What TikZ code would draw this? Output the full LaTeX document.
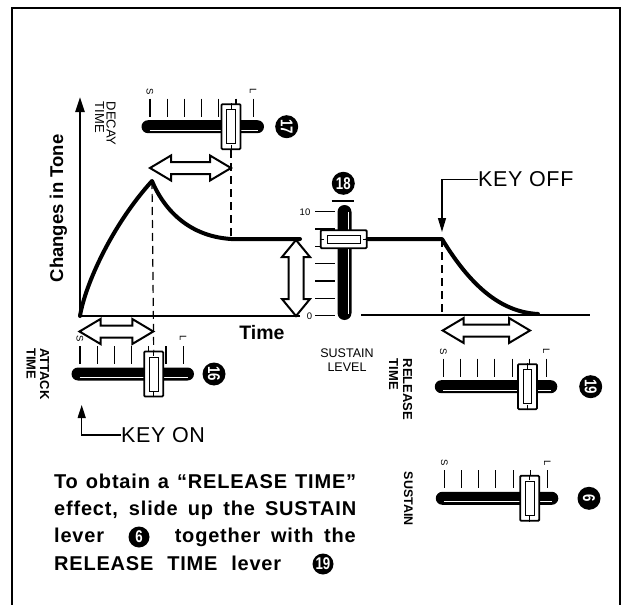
\documentclass[tikz,border=0pt]{standalone}
\usepackage{graphicx}
\usepackage{fontspec}
\setmainfont{Liberation Sans}
\newfontfamily\bodyfont{Liberation Sans}[LetterSpace=4]
\newfontfamily\keyfamily{Liberation Sans}[LetterSpace=3]
\usetikzlibrary{arrows.meta,calc}

\tikzset{
  curve/.style={line width=4pt,line cap=round,line join=round},
  axisline/.style={line width=2.4pt},
  dashline/.style={line width=1.2pt,dash pattern=on 8pt off 5pt},
  tickline/.style={line width=1.1pt},
  leadline/.style={line width=1.3pt},
  knob/.style={draw,fill=white,line width=1.8pt,inner sep=0pt,rounded corners=1pt},
  numcirc/.style={circle,fill=black,text=white,inner sep=0pt,minimum size=23pt,
    font=\fontsize{17}{17}\selectfont\bfseries},
  hollow/.style={draw,fill=white,line width=2pt,line join=miter},
  smalllab/.style={inner sep=0pt,font=\fontsize{9.5}{9.5}\selectfont},
  sidelab/.style={inner sep=0pt,rotate=-90,anchor=north west,align=left},
  keyfont/.style={inner sep=0pt,font=\keyfamily\fontsize{21.5}{21.5}\selectfont},
  bodytext/.style={inner sep=0pt,font=\bodyfont\fontsize{20}{20}\selectfont\bfseries},
}
\newcommand{\cnum}[1]{\scalebox{0.78}[1]{#1}}

% horizontal slider: #1 name, #2 first tick x, #3 track centre y, #4 knob x, #5 circle x, #6 number
\newcommand{\HSlider}[6]{%
  \pgfmathsetmacro{\slXl}{#2-8.5}%
  \pgfmathsetmacro{\slXr}{#2+114}%
  \fill[rounded corners=6.5pt] (\slXl,#3-6.5) rectangle (\slXr,#3+6.5);
  \draw[white,line width=0.9pt] (\slXl+8,#3+3.6) -- (\slXr-6,#3+3.6);
  \foreach \i in {0,...,6}{%
    \pgfmathsetmacro{\slTx}{#2+17.2*\i}%
    \draw[tickline] (\slTx,#3-28) -- (\slTx,#3-10);
  }
  \node[smalllab,rotate=-90] (#1S) at (#2,#3-35.5) {S};
  \node[smalllab,rotate=-90] (#1L) at (#2+103.2,#3-35.5) {L};
  \node[knob,minimum width=19pt,minimum height=45pt] (#1k) at (#4,#3) {};
  \draw[line width=1pt] ($(#1k.center)+(-4.3,-17)$) rectangle ($(#1k.center)+(4.3,17)$);
  \draw[line width=1pt] (#1k.north) -- ++(0,5.5) (#1k.south) -- ++(0,-5.5);
  \node[numcirc,rotate=-90] (#1n) at (#5,#3) {\cnum{#6}};
}

% hollow double arrows
\newcommand{\HArrow}[3]{%
  \draw[hollow] (#1,#3) -- (#1+21,#3-12.5) -- (#1+21,#3-6) -- (#2-21,#3-6) -- (#2-21,#3-12.5)
    -- (#2,#3) -- (#2-21,#3+12.5) -- (#2-21,#3+6) -- (#1+21,#3+6) -- (#1+21,#3+12.5) -- cycle;}
\newcommand{\VArrow}[3]{%
  \draw[hollow] (#3,#1) -- (#3-14,#1+17) -- (#3-7.5,#1+17) -- (#3-7.5,#2-17) -- (#3-14,#2-17)
    -- (#3,#2) -- (#3+14,#2-17) -- (#3+7.5,#2-17) -- (#3+7.5,#1+17) -- (#3+14,#1+17) -- cycle;}

\begin{document}
\begin{tikzpicture}[x=1pt,y=-1pt]
\useasboundingbox (0,0) rectangle (625,605);
\fill[white] (0,0) rectangle (625,605);

% frame (open at the bottom)
\coordinate (fbl) at (12,607);
\coordinate (ftl) at (12,8);
\coordinate (ftr) at (620,8);
\coordinate (fbr) at (620,607);
\draw[line width=2.5pt] (fbl) -- (ftl) -- (ftr) -- (fbr);

% key points
\coordinate (O) at (80,316);
\coordinate (ytop) at (80,97);
\coordinate (xend) at (300,316);
\coordinate (peak) at (152,181);
\coordinate (dend) at (231,239);
\coordinate (s1) at (300,239);
\coordinate (koff) at (442,239);
\coordinate (koffb) at (442,315);
\coordinate (rend) at (538,314);
\coordinate (b1) at (361,315);
\coordinate (b2) at (590,315);

% sliders
\HSlider{a}{80}{374}{153.7}{214}{16}
\HSlider{d}{150}{126.7}{231}{286.7}{17}
\HSlider{r}{443.3}{386.7}{527.5}{590.7}{19}
\HSlider{s}{444.3}{498.3}{529.7}{589}{6}

% vertical sustain level slider
\fill[rounded corners=7pt] (337.5,205) rectangle (351.5,320);
\draw[white,line width=0.9pt] (348,212) -- (348,314);
\foreach \i in {0,...,6}{\draw[tickline] (315,211.7+17.33*\i) -- (335,211.7+17.33*\i);}
\node[smalllab] (t10) at (305,212) {10};
\node[smalllab] (t0) at (309.5,316) {0};
\node[knob,minimum width=46pt,minimum height=18pt] (k18) at (343.7,239.2) {};
\draw[line width=1pt] ($(k18.center)+(-16.5,-3.8)$) rectangle ($(k18.center)+(16.5,3.8)$);
\draw[line width=1pt] (k18.west) -- ++(4.5,0) (k18.east) -- ++(-4.5,0);
\node[numcirc] (n18) at (343.3,183.3) {\cnum{18}};
\coordinate (cap1) at (331.7,201);
\coordinate (cap2) at (354,201);
\draw[line width=1.5pt] (cap1) -- (cap2);

% dashed guides
\draw[dashline] (peak) -- (ak.north);
\draw[dashline] (dk.south) -- (dend);
\draw[dashline] (koff) -- (koffb);

% envelope
\draw[axisline] (xend) -- (O);
\draw[axisline,-{Triangle[length=15pt,width=9pt]}] (O) -- (ytop);
\draw[curve] (O) .. controls (85,285) and (112,225) .. (peak)
  .. controls (162,205) and (185,236) .. (dend) -- (s1);
\draw[curve] (k18.east |- koff) -- (koff) .. controls (470,285) and (500,312) .. (rend);
\draw[line width=2.2pt] (b1) -- (b2);

% hollow arrows
\HArrow{150}{231}{168}
\HArrow{79.5}{153.3}{331.5}
\HArrow{442.7}{530}{330.5}
\VArrow{240}{316}{296}

% labels
\node[inner sep=0pt,rotate=90,font=\fontsize{18.5}{18.5}\selectfont\bfseries] (ylab) at (58.5,208.5) {Changes in Tone};
\node[inner sep=0pt,font=\fontsize{19.5}{19.5}\selectfont\bfseries] (xlab) at (262,333) {Time};
\node[sidelab,font=\fontsize{13}{11.5}\selectfont] (decay) at (116,101.5) {DECAY\\TIME};
\node[sidelab,font=\fontsize{13}{13.5}\selectfont\bfseries] (attack) at (49.5,348) {ATTACK\\TIME};
\node[sidelab,font=\fontsize{13}{14}\selectfont\bfseries] (release) at (412.5,358.5) {RELEASE\\TIME};
\node[sidelab,font=\fontsize{12.5}{12.5}\selectfont\bfseries] (sustain) at (413,471.7) {SUSTAIN};
\node[inner sep=0pt,align=center,font=\fontsize{12.5}{14.6}\selectfont] (slevel) at (347,360.3) {SUSTAIN\\LEVEL};

% key off / key on
\node[keyfont,anchor=west] (kofft) at (478,179.5) {KEY OFF};
\coordinate (koffc) at (442,179.5);
\draw[leadline,-{Triangle[length=14pt,width=8pt]},shorten >=7pt] (kofft.west) -- (koffc) -- (koff);
\node[keyfont,anchor=west] (kont) at (121,435) {KEY ON};
\coordinate (konc) at (81.7,435);
\coordinate (kontip) at (81.7,405);
\draw[leadline,-{Triangle[length=13pt,width=8pt]}] (kont.west) -- (konc) -- (kontip);

% explanatory text
\node[bodytext,anchor=base west] (l1) at (54,488.3) {\makebox[302pt][s]{To obtain a “RELEASE TIME”}};
\node[bodytext,anchor=base west] (l2) at (54,515.6) {\makebox[302pt][s]{effect, slide up the SUSTAIN}};
\node[bodytext,anchor=base west] (l3a) at (54,542.9) {lever};
\node[numcirc,minimum size=21pt] (c6) at (139,537) {\cnum{6}};
\node[bodytext,anchor=base east] (l3b) at (356,542.9) {\makebox[181pt][s]{together with the}};
\node[bodytext,anchor=base west] (l4) at (54,570.2) {\makebox[227pt][s]{RELEASE TIME lever}};
\node[numcirc,minimum size=21pt] (c19) at (323,564) {\cnum{19}};
\end{tikzpicture}
\end{document}
